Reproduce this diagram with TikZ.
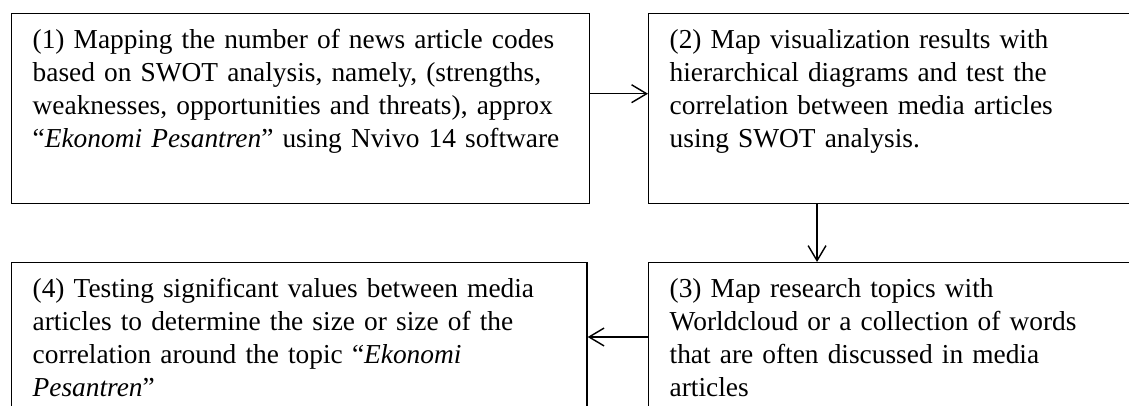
\documentclass[tikz,border=0pt]{standalone}
\usepackage{fontspec}
\setmainfont{Liberation Serif}
\usetikzlibrary{arrows.meta}

\tikzset{
  stepbox/.style={draw, line width=0.6pt, anchor=north west, align=left,
    inner xsep=8.8pt, inner ysep=5pt, text height=9.7pt,
    font=\fontsize{11.5pt}{13.9pt}\selectfont},
  flow/.style={line width=0.6pt, -{Straight Barb[length=6.3pt,width=7.5pt]}}
}

\begin{document}
\begin{tikzpicture}[x=0.42pt, y=-0.42pt]
  \clip (0, 0) rectangle (1129, 406);

  \node[stepbox, text width=225pt, text depth=60.1pt] (b1) at ( 11,  13)
    {(1) Mapping the number of news article codes\\
     based on SWOT analysis, namely, (strengths,\\
     weaknesses, opportunities and threats), approx\\
     ``\textit{Ekonomi Pesantren}'' using Nvivo 14 software};
  \node[stepbox, text width=193pt, text depth=60.1pt] (b2) at (648,  13)
    {(2) Map visualization results with\\
     hierarchical diagrams and test the\\
     correlation between media articles\\
     using SWOT analysis.};
  \node[stepbox, text width=193pt, text depth=70pt]   (b3) at (648, 262)
    {(3) Map research topics with\\
     Worldcloud or a collection of words\\
     that are often discussed in media\\
     articles};
  \node[stepbox, text width=224pt, text depth=70pt]   (b4) at ( 11, 262)
    {(4) Testing significant values between media\\
     articles to determine the size or size of the\\
     correlation around the topic ``\textit{Ekonomi}\\
     \textit{Pesantren}''};

  \draw[flow] ([yshift=6.3pt]b1.east) -- ([yshift=6.3pt]b2.west);
  \draw[flow] ([xshift=71pt]b2.south west) -- ([xshift=71pt]b3.north west);
  \draw[flow] ([yshift=-31.5pt]b3.north west) -- ([yshift=-31.5pt]b4.north east);

\end{tikzpicture}
\end{document}
